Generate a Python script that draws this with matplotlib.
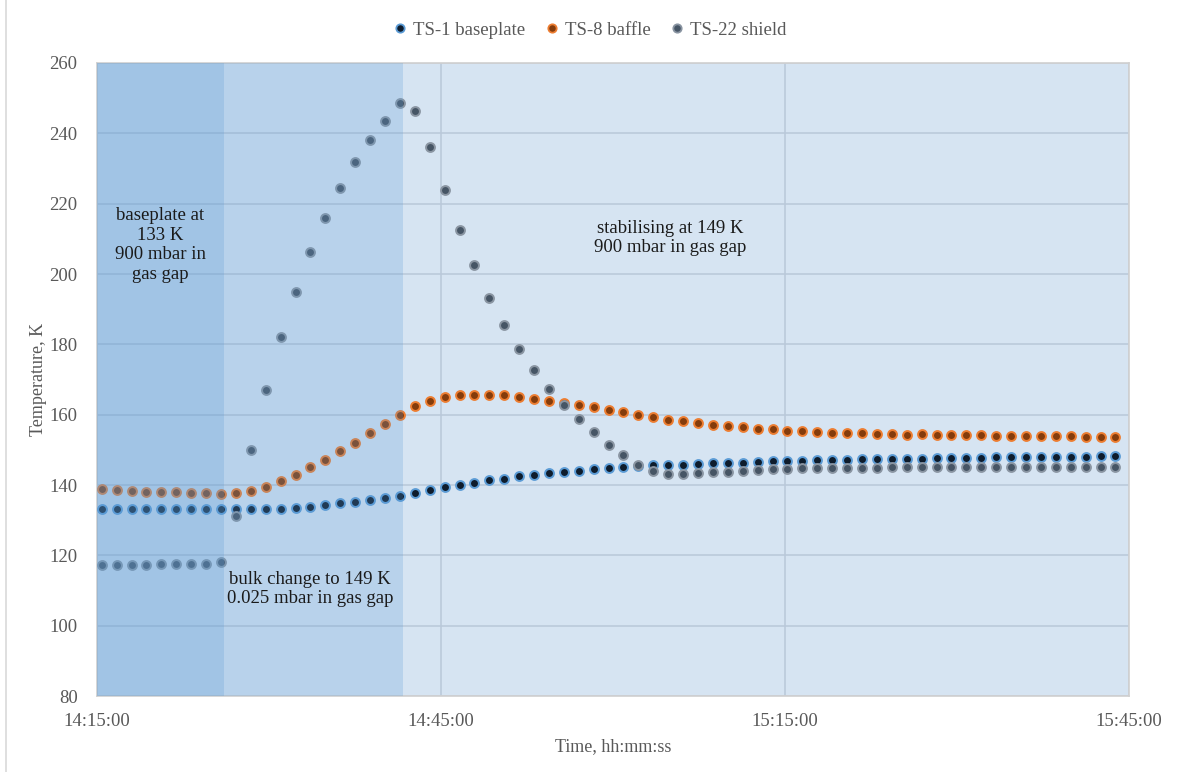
import matplotlib
matplotlib.use("Agg")
import matplotlib.pyplot as plt
import matplotlib.dates as mdates
from matplotlib.lines import Line2D
import pandas as pd

plt.rcParams['font.family'] = ['Liberation Serif', 'DejaVu Serif']

# sampling: first reading 14:15:25, one reading every 78 s
t_start = "2020-01-01 14:15:25"
t_step_s = 78

ts1_baseplate = [133.3, 133.3, 133.3, 133.3, 133.3, 133.3, 133.2, 133.2, 133.2, 133.2,
                 133.1, 133.2, 133.3, 133.6, 133.8, 134.3, 134.8, 135.2, 135.7, 136.2,
                 137.0, 137.7, 138.5, 139.4, 139.9, 140.7, 141.3, 141.8, 142.5, 142.8,
                 143.3, 143.8, 144.0, 144.5, 144.7, 145.0, 145.4, 145.6, 145.7, 145.8,
                 146.1, 146.3, 146.4, 146.4, 146.6, 146.7, 146.9, 146.9, 147.1, 147.1,
                 147.1, 147.3, 147.3, 147.5, 147.5, 147.5, 147.7, 147.7, 147.7, 147.7,
                 147.9, 147.9, 147.9, 148.1, 148.1, 148.1, 148.1, 148.3, 148.3]
ts8_baffle = [138.8, 138.5, 138.3, 138.0, 137.9, 137.9, 137.7, 137.7, 137.4, 137.6,
              138.3, 139.4, 141.1, 142.9, 145.0, 147.1, 149.6, 152.0, 154.7, 157.4,
              160.0, 162.4, 163.9, 165.0, 165.5, 165.7, 165.7, 165.5, 165.0, 164.6,
              164.0, 163.4, 162.8, 162.2, 161.2, 160.7, 160.0, 159.3, 158.6, 158.2,
              157.6, 157.1, 156.9, 156.4, 156.0, 155.8, 155.5, 155.4, 155.1, 154.9,
              154.8, 154.8, 154.6, 154.6, 154.3, 154.4, 154.3, 154.1, 154.1, 154.1,
              153.9, 153.9, 153.9, 153.9, 153.9, 153.9, 153.6, 153.6, 153.6]
ts22_shield = [117.3, 117.4, 117.4, 117.4, 117.5, 117.5, 117.5, 117.5, 118.1, 131.1,
               149.9, 166.9, 182.1, 195.0, 206.3, 215.8, 224.4, 231.8, 238.2, 243.6,
               248.5, 246.4, 236.0, 224.0, 212.6, 202.6, 193.3, 185.6, 178.8, 172.7,
               167.4, 162.8, 158.7, 155.0, 151.5, 148.4, 145.8, 144.0, 143.2, 143.2,
               143.5, 143.6, 143.8, 144.1, 144.3, 144.5, 144.5, 144.7, 144.8, 144.8,
               144.8, 144.9, 144.9, 145.1, 145.1, 145.1, 145.1, 145.1, 145.1, 145.1,
               145.1, 145.1, 145.1, 145.1, 145.1, 145.1, 145.1, 145.2, 145.2]

series_names = ["TS-1 baseplate", "TS-8 baffle", "TS-22 shield"]
face_cols = ["#0e1c2c", "#843c0c", "#465565"]
edge_cols = ["#5b9bd5", "#ed7d31", "#8a95a2"]

# phases
phase_1_end = "2020-01-01 14:26:05"
phase_2_end = "2020-01-01 14:41:40"
notes = ["baseplate at\n133 K\n900 mbar in\ngas gap",
         "bulk change to 149 K\n0.025 mbar in gas gap",
         "stabilising at 149 K\n900 mbar in gas gap"]

times = pd.date_range(t_start, periods=len(ts1_baseplate), freq=f"{t_step_s}s")
x0 = pd.Timestamp("2020-01-01 14:15:00")
x1 = pd.Timestamp("2020-01-01 15:45:00")

fig = plt.figure(figsize=(11.77, 7.72), dpi=100)
ax = fig.add_axes([0.0824, 0.0984, 0.8768, 0.8200])
ax.set_facecolor("#d6e4f2")

for ys, fc, ec, nm in zip([ts1_baseplate, ts8_baffle, ts22_shield], face_cols, edge_cols, series_names):
    ax.plot(times, ys, linestyle="none", marker="o", markersize=6.4, markerfacecolor=fc,
            markeredgecolor=ec, markeredgewidth=1.4, label=nm, zorder=3)

# shaded phases drawn over the points (semi transparent)
ax.axvspan(x0, pd.Timestamp(phase_2_end), color="#5b9bd5", alpha=0.24, lw=0, zorder=4)
ax.axvspan(x0, pd.Timestamp(phase_1_end), color="#5b9bd5", alpha=0.24, lw=0, zorder=4)

ax.set_xlim(x0, x1)
ax.set_ylim(80, 260)
ax.set_yticks(range(80, 261, 20))
ax.xaxis.set_major_locator(mdates.MinuteLocator(byminute=[15, 45]))
ax.xaxis.set_major_formatter(mdates.DateFormatter("%H:%M:%S"))
ax.grid(True, color="#b9c8d9", lw=1.1, zorder=1)
ax.set_axisbelow(True)
ax.tick_params(length=0, labelsize=13.5, colors="#595959", pad=14)
ax.tick_params(axis="x", pad=12)
for sp in ax.spines.values():
    sp.set_color("#d0d0d0")
    sp.set_linewidth(1.2)

ax.set_ylabel("Temperature, K", fontsize=13, color="#595959", labelpad=2)
ax.set_xlabel("Time, hh:mm:ss", fontsize=13, color="#595959", labelpad=6)

ax.text(pd.Timestamp("2020-01-01 14:20:30"), 208.3, notes[0], ha="center", va="center",
        fontsize=13.5, color="#1a1a1a", linespacing=1.2, zorder=6)
ax.text(pd.Timestamp("2020-01-01 14:33:35"), 110.4, notes[1], ha="center", va="center",
        fontsize=13.5, color="#1a1a1a", linespacing=1.2, zorder=6)
ax.text(pd.Timestamp("2020-01-01 15:04:58"), 210.2, notes[2], ha="center", va="center",
        fontsize=13.5, color="#1a1a1a", linespacing=1.2, zorder=6)

handles = [Line2D([], [], linestyle="none", marker="o", markersize=6, markerfacecolor=fc,
                  markeredgecolor=ec, markeredgewidth=1.3) for fc, ec in zip(face_cols, edge_cols)]
fig.legend(handles, series_names, loc="center", bbox_to_anchor=(0.5, 0.961), ncol=3,
           frameon=False, fontsize=13.5, labelcolor="#595959", handletextpad=0.2,
           columnspacing=0.9, handlelength=1.0)

# chart-area border on the left
fig.add_artist(Line2D([0.005, 0.005], [0, 1], color="#d9d9d9", lw=1.2, transform=fig.transFigure))

fig.savefig("out.png", dpi=100)
